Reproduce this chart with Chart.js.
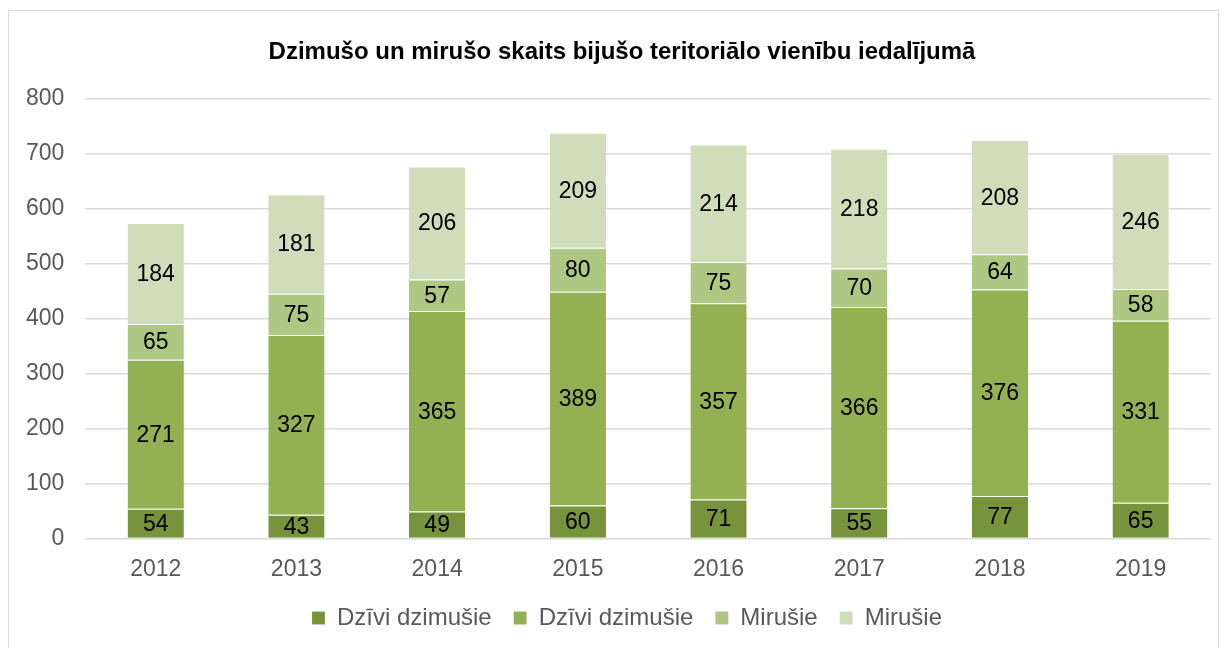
<!DOCTYPE html>
<html>
<head>
  <meta charset="utf-8">
  <title>Dzimušo un mirušo skaits</title>
  <script src="https://cdn.jsdelivr.net/npm/chart.js@4/dist/chart.umd.min.js"></script>
  <style>
    body { margin: 0; background: #fff; }
    #frame { position: absolute; left: 8px; top: 10px; width: 1209px; height: 660px; border: 1px solid #d9d9d9; }
    #wrap { position: absolute; left: 0; top: 0; }
  </style>
</head>
<body>
  <div id="frame"></div>
  <div id="wrap">
    <canvas id="chart" width="1226" height="648"></canvas>
  </div>

<script>
  const years = ['2012', '2013', '2014', '2015', '2016', '2017', '2018', '2019'];
  const born1 = [54, 43, 49, 60, 71, 55, 77, 65];
  const born2 = [271, 327, 365, 389, 357, 366, 376, 331];
  const died1 = [65, 75, 57, 80, 75, 70, 64, 58];
  const died2 = [184, 181, 206, 209, 214, 218, 208, 246];

  const font = "'Liberation Sans', Arial, sans-serif";

  function series(label, values, color) {
    return {
      label: label,
      data: values,
      backgroundColor: color,
      borderColor: 'rgba(255,255,255,0.5)',
      borderWidth: { top: 1, left: 0, right: 0, bottom: 0 },
      borderSkipped: false,
      barPercentage: 0.4,
      categoryPercentage: 1.0
    };
  }

  // draw the value in the middle of each segment
  const segmentLabels = {
    id: 'segmentLabels',
    afterDatasetsDraw(chart) {
      const ctx = chart.ctx;
      ctx.save();
      ctx.font = '23px ' + font;
      ctx.fillStyle = '#000';
      ctx.textAlign = 'center';
      ctx.textBaseline = 'middle';
      chart.data.datasets.forEach((ds, i) => {
        chart.getDatasetMeta(i).data.forEach((bar, j) => {
          ctx.fillText(ds.data[j], bar.x, (bar.y + bar.base) / 2 + 1);
        });
      });
      ctx.restore();
    }
  };

  // title and legend sit a bit right of the canvas centre in the original
  const nudge = {
    id: 'nudge',
    afterLayout(chart) {
      chart.titleBlock.left += 14;
      chart.titleBlock.right += 14;
      chart.legend.left += 19;
      chart.legend.right += 19;
    }
  };

  const chart = new Chart(document.getElementById('chart'), {
    type: 'bar',
    data: {
      labels: years,
      datasets: [
        series('Dzīvi dzimušie', born1, '#77933c'),
        series('Dzīvi dzimušie', born2, '#93b053'),
        series('Mirušie', died1, '#aec782'),
        series('Mirušie', died2, '#d1ddba')
      ]
    },
    options: {
      responsive: false,
      animation: false,
      events: [],
      layout: { padding: { left: 5, right: 15, top: 38, bottom: 8 } },
      plugins: {
        title: {
          display: true,
          text: 'Dzimušo un mirušo skaits bijušo teritoriālo vienību iedalījumā',
          color: '#000',
          font: { family: font, size: 24, weight: 'bold' },
          padding: { top: 0, bottom: 32 }
        },
        legend: {
          position: 'bottom',
          labels: {
            color: '#595959',
            font: { family: font, size: 24 },
            boxWidth: 13,
            boxHeight: 13,
            padding: 22
          }
        },
        tooltip: { enabled: false }
      },
      scales: {
        x: {
          stacked: true,
          grid: { display: false },
          border: { display: false },
          ticks: { color: '#595959', font: { family: font, size: 23 }, padding: 9 },
          afterFit(scale) { scale.height -= 8; }
        },
        y: {
          stacked: true,
          min: 0,
          max: 800,
          grid: { color: '#d9d9d9', lineWidth: 1.5, drawTicks: false },
          border: { display: false },
          ticks: { stepSize: 100, color: '#595959', font: { family: font, size: 23 }, padding: 21 }
        }
      }
    },
    plugins: [segmentLabels, nudge]
  });
</script>
</body>
</html>
